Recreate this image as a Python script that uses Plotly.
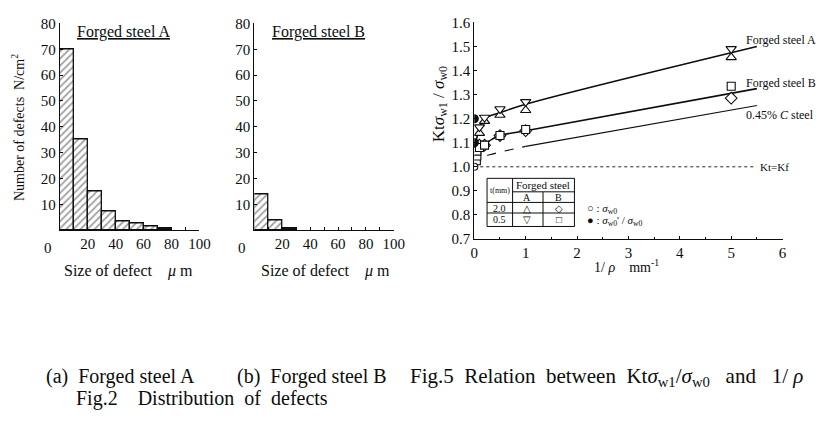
import plotly.graph_objects as go

# ---------------- data ----------------
bin_centers = [5, 15, 25, 35, 45, 55, 65, 75]
steelA_counts = [70, 35, 15, 7.5, 3.5, 2.5, 1.5, 0.6]
steelB_centers = [5, 15, 25]
steelB_counts = [14, 4, 0.8]
hist_yticks = [10, 20, 30, 40, 50, 60, 70, 80]
hist_xticks = [20, 40, 60, 80, 100]

rho_pts = [0.1, 0.2, 0.5, 1, 5]
A_t20 = [1.14, 1.19, 1.215, 1.235, 1.455]      # triangle up
A_t05 = [1.165, 1.205, 1.24, 1.27, 1.49]       # triangle down
B_t20 = [1.09, 1.09, 1.13, 1.15, 1.285]        # diamond
B_t05_x = [0.04, 0.05, 0.05, 0.1, 0.2, 0.5, 1, 5]
B_t05 = [1.025, 1.045, 1.065, 1.08, 1.09, 1.13, 1.155, 1.335]  # square
open_circle_x = [0]
open_circle_y = [1.0]
filled_circle_x = [0, 0]
filled_circle_y = [1.2, 1.1]

curveA_x = [0.03, 0.1, 0.2, 0.35, 0.5, 1, 5.5]
curveA_y = [1.10, 1.16, 1.20, 1.215, 1.225, 1.26, 1.50]
curveB_x = [0.03, 0.1, 0.2, 0.35, 0.5, 1, 5.5]
curveB_y = [1.08, 1.09, 1.095, 1.115, 1.13, 1.15, 1.325]
steelC_x = [1, 5.5]
steelC_y = [1.085, 1.255]
steelC_dash_x = [0.02, 0.1, 0.3, 1]
steelC_dash_y = [1.0, 1.035, 1.05, 1.085]
ktkf_x = [0, 5.45]
ktkf_y = [1.0, 1.0]

W, H = 825, 426
FONT = "Liberation Serif"
INK = "#0d0d0d"


def px(x):
    return x / W


def py(y):
    return 1 - y / H


fig = go.Figure()

# ---------------- histograms ----------------
def hist_trace(xs, ys, xa, ya):
    shapes = ["/"] * (len(xs) - 1) + [""]
    colors = ["white"] * (len(xs) - 1) + ["#1a1a1a"]
    return go.Bar(
        x=xs, y=ys, width=10, xaxis=xa, yaxis=ya,
        marker=dict(color=colors, line=dict(color=INK, width=1.3),
                    pattern=dict(shape=shapes, fgcolor="#222", bgcolor="white",
                                 size=5, solidity=0.35)),
        showlegend=False, hoverinfo="skip")


fig.add_trace(hist_trace(bin_centers, steelA_counts, "x", "y"))
fig.add_trace(hist_trace(steelB_centers, steelB_counts, "x2", "y2"))

# ---------------- right chart ----------------
def line(xs, ys, width=1.6, dash="solid", shape="spline"):
    return go.Scatter(x=xs, y=ys, mode="lines", xaxis="x3", yaxis="y3",
                      line=dict(color=INK, width=width, dash=dash, shape=shape),
                      showlegend=False, hoverinfo="skip")


fig.add_trace(line(curveA_x, curveA_y))
fig.add_trace(line(curveB_x, curveB_y))
fig.add_trace(line(steelC_x, steelC_y, width=1.1, shape="linear"))
fig.add_trace(line(steelC_dash_x, steelC_dash_y, width=1.1, dash="dash"))
fig.add_trace(line(ktkf_x, ktkf_y, width=0.9, dash="dot", shape="linear"))


def pts(xs, ys, symbol, size=9, fill="white"):
    return go.Scatter(x=xs, y=ys, mode="markers", xaxis="x3", yaxis="y3",
                      marker=dict(symbol=symbol, size=size, color=fill,
                                  line=dict(color=INK, width=1.1)),
                      showlegend=False, hoverinfo="skip")


fig.add_trace(pts(rho_pts, A_t20, "triangle-up"))
fig.add_trace(pts(rho_pts, A_t05, "triangle-down"))
fig.add_trace(pts(rho_pts, B_t20, "diamond"))
fig.add_trace(pts(B_t05_x, B_t05, "square", size=8))
fig.add_trace(pts(open_circle_x, open_circle_y, "circle", size=7))
fig.add_trace(pts(filled_circle_x, filled_circle_y, "circle", size=8, fill=INK))

tickfont = dict(family=FONT, size=15, color=INK)
axis_common = dict(showline=True, linecolor=INK, linewidth=1.2, ticks="inside",
                   ticklen=3, tickcolor=INK, showgrid=False, zeroline=False,
                   tickfont=tickfont)

fig.update_layout(
    width=W, height=H, margin=dict(l=0, r=0, t=0, b=0),
    paper_bgcolor="white", plot_bgcolor="white",
    bargap=0,
    xaxis=dict(domain=[px(57), px(199)], range=[0, 100], tickvals=hist_xticks,
               anchor="y", minor=dict(ticks="inside", dtick=10, ticklen=3, tickcolor=INK),
               **axis_common),
    yaxis=dict(domain=[py(231), py(16)], range=[0, 80], tickvals=hist_yticks,
               anchor="x", **axis_common),
    xaxis2=dict(domain=[px(255), px(397)], range=[0, 100], tickvals=hist_xticks,
                anchor="y2", minor=dict(ticks="inside", dtick=10, ticklen=3, tickcolor=INK),
                **axis_common),
    yaxis2=dict(domain=[py(231), py(16)], range=[0, 80], tickvals=hist_yticks,
                anchor="x2", **axis_common),
    xaxis3=dict(domain=[px(479), px(793)], range=[0, 6], dtick=1, anchor="y3",
                minor=dict(ticks="inside", dtick=0.5, ticklen=2, tickcolor=INK),
                **axis_common),
    yaxis3=dict(domain=[py(240), py(15)], range=[0.7, 1.6], dtick=0.1,
                tickformat=".1f", anchor="x3", **axis_common),
)

ann = []


def text(x, y, t, size=15, xanchor="center", yanchor="middle", angle=0):
    ann.append(dict(x=px(x), y=py(y), xref="paper", yref="paper", text=t, showarrow=False,
                    xanchor=xanchor, yanchor=yanchor, textangle=angle, borderpad=0,
                    font=dict(family=FONT, size=size, color=INK)))


# histogram texts
text(122, 25, "<u>Forged steel A</u>", size=16)
text(320, 25, "<u>Forged steel B</u>", size=16)
text(15, 124, "Number of defects  N/cm<sup>2</sup>", size=14, angle=-90)
text(127, 273, "Size of defect    <i>μ</i> m", size=16)
text(327, 273, "Size of defect    <i>μ</i> m", size=16)
text(45, 249, "0", size=15)
text(242, 249, "0", size=15)

# right chart texts
text(444, 100, "Kt<i>σ</i><sub>w1</sub> / <i>σ</i><sub>w0</sub>", size=17, angle=-90)
text(634, 268, "1/ <i>ρ</i>    mm<sup>-1</sup>", size=14)
text(755, 33, "Forged steel A", size=12, xanchor="left")
text(755, 78, "Forged steel B", size=12, xanchor="left")
text(755, 111, "0.45% <i>C</i> steel", size=12, xanchor="left")
text(769, 165, "Kt=Kf", size=11, xanchor="left")

# legend table
text(505, 190, "t(mm)", size=8)
text(549, 184, "Forged steel", size=11)
text(533, 197, "A", size=10)
text(565, 197, "B", size=10)
text(505, 208, "2.0", size=10)
text(505, 220, "0.5", size=10)
text(533, 208, "△", size=10)
text(565, 208, "◇", size=10)
text(533, 220, "▽", size=10)
text(565, 220, "□", size=10)
text(593, 209, "○ : <i>σ</i><sub>w0</sub>", size=11, xanchor="left")
text(593, 221, "● : <i>σ</i><sub>w0</sub>' / <i>σ</i><sub>w0</sub>", size=11, xanchor="left")

# captions
text(42, 383, "(a)  Forged steel A", size=20, xanchor="left")
text(236, 383, "(b)  Forged steel B", size=20, xanchor="left")
text(412, 383, "Fig.5  Relation  between  Kt<i>σ</i><sub>w1</sub>/<i>σ</i><sub>w0</sub>   and   1/ <i>ρ</i>",
     size=21, xanchor="left")
text(72, 406, "Fig.2    Distribution  of  defects", size=20, xanchor="left")

fig.update_layout(annotations=ann)

# table grid
shapes = []


def seg(x0, y0, x1, y1):
    shapes.append(dict(type="line", xref="paper", yref="paper",
                       x0=px(x0), y0=py(y0), x1=px(x1), y1=py(y1),
                       line=dict(color=INK, width=1)))


seg(492, 177, 581, 177)
seg(492, 227, 581, 227)
seg(492, 177, 492, 227)
seg(581, 177, 581, 227)
seg(518, 177, 518, 227)
seg(549, 191, 549, 227)
seg(518, 191, 581, 191)
seg(492, 202, 581, 202)
seg(492, 213, 581, 213)
fig.update_layout(shapes=shapes)

fig.write_html("out.html")
